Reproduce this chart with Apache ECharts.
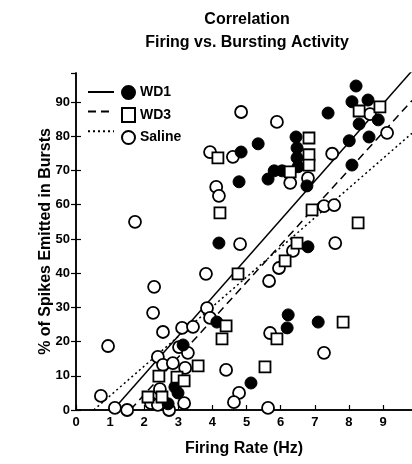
<!DOCTYPE html>
<html>
<head>
<meta charset="utf-8">
<script src="https://cdn.jsdelivr.net/npm/echarts@6/dist/echarts.min.js"></script>
<style>
  html, body { margin: 0; padding: 0; background: #fff; }
  #echart { width: 412px; height: 464px; }
</style>
</head>
<body>
<div id="echart"></div>
<script>
// firing rate (Hz), % spikes in bursts
var wd1 = [
    [8.21, 94.7], [8.09, 90.1], [8.56, 90.6], [7.39, 86.8], [8.86, 84.8],
    [8.30, 83.6], [8.59, 79.8], [8.01, 78.7], [8.09, 71.6], [6.77, 65.5],
    [4.84, 75.4], [5.34, 77.8], [4.78, 66.7], [5.63, 67.5], [5.81, 69.9],
    [6.04, 69.9], [6.45, 79.8], [6.48, 76.6], [6.48, 73.7], [6.51, 71.1],
    [4.19, 48.8], [6.80, 47.7], [6.22, 27.8], [6.19, 24.0], [7.10, 25.7],
    [5.13, 7.9], [4.13, 25.7], [3.14, 19.0], [2.90, 6.7], [2.99, 5.0],
    [2.70, 1.8]
];
var wd3 = [
    [8.91, 88.6], [8.30, 87.4], [6.83, 79.5], [6.83, 74.6], [6.83, 71.6],
    [6.28, 69.6], [4.16, 73.7], [4.22, 57.6], [6.92, 58.5], [8.27, 54.7],
    [6.48, 48.8], [6.13, 43.6], [4.75, 39.8], [4.40, 24.6], [4.28, 20.8],
    [3.58, 12.9], [7.83, 25.7], [5.89, 20.8], [5.54, 12.6], [2.43, 9.9],
    [2.96, 9.6], [3.17, 8.5], [2.11, 3.8], [2.52, 3.8]
];
var saline = [
    [4.84, 87.1], [5.89, 84.2], [3.93, 75.4], [4.60, 74.0], [4.11, 65.2],
    [4.19, 62.6], [1.73, 55.0], [7.51, 74.9], [8.62, 86.5], [9.12, 81.0],
    [6.80, 67.8], [6.28, 66.4], [7.27, 59.6], [7.57, 59.9], [4.81, 48.5],
    [7.60, 48.8], [6.36, 46.5], [5.95, 41.5], [5.66, 37.7], [3.81, 39.8],
    [2.29, 36.0], [2.26, 28.4], [3.84, 29.8], [3.93, 26.9], [2.55, 22.8],
    [3.11, 24.0], [3.43, 24.3], [5.69, 22.5], [0.94, 18.7], [3.02, 18.4],
    [3.28, 16.7], [2.40, 15.5], [2.55, 13.2], [2.84, 13.7], [3.20, 12.3],
    [4.40, 11.7], [7.27, 16.7], [2.46, 6.1], [0.73, 4.1], [1.14, 0.6],
    [1.50, 0.0], [2.20, 2.0], [2.40, 1.5], [2.73, 0.0], [3.17, 2.0],
    [4.78, 5.0], [4.63, 2.3], [5.63, 0.6]
];

// regression lines: WD1, WD3, Saline
var fitNames = ['WD1 fit', 'WD3 fit', 'Saline fit'];
var fitSlope = [11.31, 10.95, 8.67];
var fitIntercept = [-12.27, -17.4, -4.5];
var fitStart = [1.085, 1.6, 0.52];
var fitTypes = ['solid', [8, 5], [2, 3]];

var xMax = 9.85, yMax = 98.5;
var font = 'Liberation Sans, Arial, sans-serif';

var myChart = echarts.init(document.getElementById('echart'));

function fitLine(i) {
    return [
        [fitStart[i], fitSlope[i] * fitStart[i] + fitIntercept[i]],
        [xMax, fitSlope[i] * xMax + fitIntercept[i]]
    ];
}

var series = [];
for (var i = 0; i < 3; i++) {
    series.push({
        name: fitNames[i],
        type: 'line',
        data: fitLine(i),
        symbol: 'none',
        clip: true,
        z: 1,
        itemStyle: { color: '#000' },
        lineStyle: { color: '#000', width: 1.5, type: fitTypes[i] }
    });
}
series.push({
    name: 'Saline', type: 'scatter', data: saline,
    symbol: 'circle', symbolSize: 12, z: 2,
    itemStyle: { color: '#fff', borderColor: '#000', borderWidth: 1.8, opacity: 1 }
});
series.push({
    name: 'WD1', type: 'scatter', data: wd1,
    symbol: 'circle', symbolSize: 12, z: 3,
    itemStyle: { color: '#000', borderColor: '#000', borderWidth: 1, opacity: 1 }
});
series.push({
    name: 'WD3', type: 'scatter', data: wd3,
    symbol: 'rect', symbolSize: 11, z: 4,
    itemStyle: { color: '#fff', borderColor: '#000', borderWidth: 1.8, opacity: 1 }
});

var axisText = { color: '#000', fontWeight: 'bold', fontSize: 13, fontFamily: font };
var nameText = { color: '#000', fontWeight: 'bold', fontSize: 16, fontFamily: font };

option = {
    backgroundColor: '#fff',
    animation: false,
    title: {
        text: 'Correlation\nFiring vs. Bursting Activity',
        left: 242,
        top: 3,
        textAlign: 'center',
        textStyle: { color: '#000', fontWeight: 'bold', fontSize: 16, lineHeight: 23, fontFamily: font }
    },
    legend: [{
        data: fitNames,
        orient: 'vertical',
        left: 82, top: 80,
        itemWidth: 26, itemHeight: 14, itemGap: 7,
        formatter: function () { return ''; },
        itemStyle: { color: 'rgba(0,0,0,0)', borderWidth: 0 },
        selectedMode: false
    }, {
        data: ['WD1', 'WD3', 'Saline'],
        orient: 'vertical',
        left: 116, top: 80,
        itemWidth: 13, itemHeight: 14, itemGap: 7,
        selectedMode: false,
        textStyle: { color: '#000', fontWeight: 'bold', fontSize: 14, fontFamily: font }
    }],
    grid: { left: 76, right: 0, top: 73, bottom: 54 },
    xAxis: [{
        type: 'value', position: 'bottom',
        min: 0, max: xMax, interval: 1,
        name: 'Firing Rate (Hz)', nameLocation: 'middle', nameGap: 31,
        nameMoveOverlap: false,
        nameTextStyle: nameText,
        axisLine: { show: true, lineStyle: { color: '#000', width: 1.5 } },
        axisTick: { show: true, inside: true, length: 5, lineStyle: { color: '#000', width: 1.2 } },
        axisLabel: Object.assign({ margin: 6, showMaxLabel: false }, axisText),
        splitLine: { show: false }
    }, {
        type: 'value', position: 'top',
        min: 0, max: xMax, interval: 1,
        axisLine: { show: true, lineStyle: { color: '#000', width: 1.5 } },
        axisTick: { show: false },
        axisLabel: { show: false },
        splitLine: { show: false }
    }],
    yAxis: [{
        type: 'value', position: 'left',
        min: 0, max: yMax, interval: 10,
        name: '% of Spikes Emitted in Bursts', nameLocation: 'middle', nameGap: 22,
        nameMoveOverlap: false,
        nameTextStyle: nameText,
        axisLine: { show: true, lineStyle: { color: '#000', width: 1.5 } },
        axisTick: { show: true, inside: true, length: 5, lineStyle: { color: '#000', width: 1.2 } },
        axisLabel: Object.assign({ margin: 6, showMaxLabel: false }, axisText),
        splitLine: { show: false }
    }, {
        type: 'value', position: 'right',
        min: 0, max: yMax, interval: 10,
        axisLine: { show: true, lineStyle: { color: '#000', width: 1.5 } },
        axisTick: { show: true, inside: true, length: 5, lineStyle: { color: '#000', width: 1.2 } },
        axisLabel: { show: false },
        splitLine: { show: false }
    }],
    series: series
};
myChart.setOption(option);
</script>
</body>
</html>
